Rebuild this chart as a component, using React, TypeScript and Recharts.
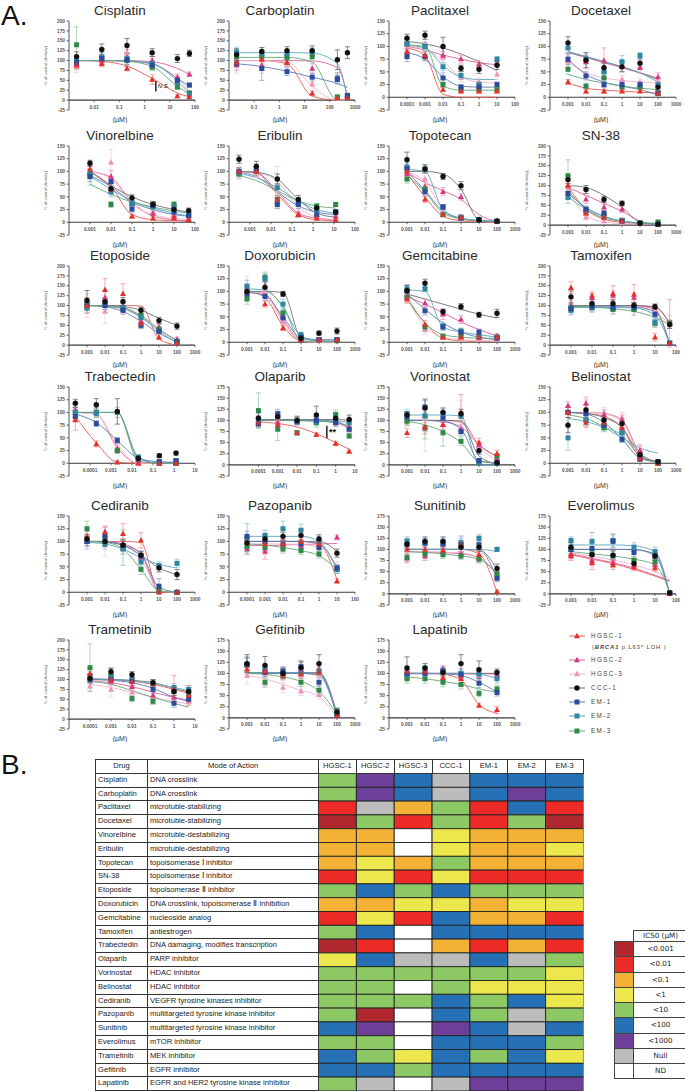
import React from 'react';
import { ComposedChart, Line, Scatter, XAxis, YAxis, ErrorBar, ReferenceLine } from 'recharts';

// ---------------- categories ----------------
const CELL_LINES = ['HGSC-1', 'HGSC-2', 'HGSC-3', 'CCC-1', 'EM-1', 'EM-2', 'EM-3'];

// ---------------- axis ticks / domains ----------------
const Y150 = [-25, 0, 25, 50, 75, 100, 125, 150];
const Y175 = [-25, 0, 25, 50, 75, 100, 125, 150, 175];
const Y200 = [-25, 0, 25, 50, 75, 100, 125, 150, 175, 200];
const XT_CIS = [0.01, 0.1, 1, 10, 100];
const XT_CARBO = [0.1, 1, 10, 100, 1000];
const XT_4_100 = [0.0001, 0.001, 0.01, 0.1, 1, 10, 100];
const XT_3_1000 = [0.001, 0.01, 0.1, 1, 10, 100, 1000];
const XT_3_100 = [0.001, 0.01, 0.1, 1, 10, 100];
const XT_4_10 = [0.0001, 0.001, 0.01, 0.1, 1, 10];
const XD_CIS = [0.001, 100];
const XD_CARBO = [0.01, 1000];
const XD_4_100 = [0.00001, 100];
const XD_3_1000 = [0.0001, 1000];
const XD_3_100 = [0.0001, 100];
const XD_4_10 = [0.00001, 10];
const XD_OLA = [0.000003, 10];

// ---------------- dose-response data (rows: HGSC-1, HGSC-2, HGSC-3, CCC-1, EM-1, EM-2, EM-3) ----------------
const CISPLATIN_CONC = [0.002, 0.02, 0.2, 2, 20, 60];
const CISPLATIN_RESP = [[88, 92, 80, 52, 10, 8], [92, 100, 108, 100, 58, 65], [85, 98, 120, 95, 50, 15], [110, 128, 138, 120, 105, 118], [95, 105, 102, 88, 50, 38], [100, 108, 105, 92, 45, 15], [140, 105, 100, 83, 33, 18]];
const CISPLATIN_FIT = [[100, 98, 86, 55, 18, 8], [100, 100, 100, 97, 80, 65], [100, 100, 99, 90, 55, 22], null, [100, 100, 99, 92, 55, 35], [100, 100, 99, 92, 48, 18], [100, 100, 98, 85, 35, 15]];
const CISPLATIN_SEM = [[10, 8, 6, 12, 4, 3], [12, 10, 20, 10, 8, 6], [15, 12, 35, 10, 10, 5], [12, 14, 18, 10, 10, 8], [8, 10, 12, 6, 8, 5], [10, 12, 15, 8, 8, 5], [45, 15, 15, 8, 6, 5]];

const CARBOPLATIN_CONC = [0.02, 0.2, 2, 20, 200, 500];
const CARBOPLATIN_RESP = [[95, 103, 95, 17, 5, 5], [90, 88, 95, 80, 58, 8], [88, 80, 108, 40, 5, 3], [115, 123, 125, 125, 102, 120], [92, 80, 72, 58, 52, 12], [122, 118, 118, 122, 55, 10], [110, 110, 108, 110, 8, 5]];
const CARBOPLATIN_FIT = [[100, 100, 92, 10, 0, 0], [100, 100, 100, 99, 82, 10], [100, 100, 97, 35, 0, 0], null, [92, 85, 73, 58, 42, 32], [120, 120, 120, 119, 92, 5], [108, 108, 108, 96, 0, 0]];
const CARBOPLATIN_SEM = [[8, 6, 8, 5, 3, 3], [15, 10, 10, 12, 10, 5], [20, 12, 12, 15, 4, 3], [15, 10, 10, 12, 25, 15], [10, 30, 10, 10, 10, 5], [12, 8, 8, 10, 15, 5], [8, 8, 8, 8, 5, 3]];

const PACLITAXEL_CONC = [0.0001, 0.001, 0.01, 0.1, 1, 10];
const PACLITAXEL_RESP = [[90, 82, 15, 12, 12, 12], [88, 82, 82, 75, 65, 68], [98, 105, 80, 40, 30, 45], [116, 122, 100, 57, 55, 63], [80, 80, 38, 20, 20, 25], [105, 100, 60, 43, 25, 75], [105, 100, 25, 15, 15, 15]];
const PACLITAXEL_FIT = [[97, 82, 6, 0, 0, 0], [100, 93, 83, 75, 68, 64], [100, 95, 70, 40, 30, 28], [110, 105, 97, 85, 70, 52], [88, 75, 40, 22, 20, 20], [102, 97, 62, 40, 35, 35], [103, 100, 22, 14, 14, 14]];
const PACLITAXEL_SEM = [[10, 8, 4, 3, 3, 3], [12, 10, 8, 8, 8, 6], [15, 10, 15, 10, 8, 10], [8, 8, 18, 6, 8, 8], [10, 8, 10, 5, 5, 5], [8, 8, 8, 8, 6, 5], [10, 8, 5, 4, 4, 4]];

const DOCETAXEL_CONC = [0.001, 0.01, 0.1, 1, 10, 100];
const DOCETAXEL_RESP = [[30, 12, 12, 12, 12, 8], [73, 70, 72, 60, 58, 40], [72, 45, 40, 35, 30, 30], [107, 73, 58, 60, 67, 20], [75, 42, 25, 25, 25, 8], [97, 75, 50, 70, 82, 25], [55, 22, 38, 20, 20, 8]];
const DOCETAXEL_FIT = [[28, 18, 14, 12, 10, 8], [88, 78, 68, 58, 48, 38], [70, 48, 38, 33, 30, 28], [90, 80, 70, 60, 48, 35], [75, 45, 30, 22, 15, 5], [88, 80, 70, 60, 48, 30], [45, 35, 28, 22, 18, 15]];
const DOCETAXEL_SEM = [[5, 4, 4, 3, 3, 3], [15, 12, 25, 10, 10, 8], [12, 10, 10, 8, 8, 8], [12, 15, 8, 10, 8, 6], [10, 8, 6, 6, 6, 5], [10, 10, 8, 12, 6, 6], [10, 6, 8, 6, 5, 5]];

const VINORELBINE_CONC = [0.001, 0.01, 0.1, 1, 10, 50];
const VINORELBINE_RESP = [[105, 65, 12, 8, 8, 5], [100, 90, 40, 17, 12, 5], [100, 118, 35, 20, 15, 10], [116, 66, 48, 35, 25, 23], [90, 80, 26, 33, 20, 13], [93, 60, 37, 30, 30, 15], [95, 35, 37, 35, 35, 15]];
const VINORELBINE_FIT = [[100, 70, 15, 5, 3, 2], [100, 88, 40, 12, 5, 3], [100, 85, 35, 15, 8, 5], [100, 72, 50, 35, 25, 20], [92, 70, 40, 25, 15, 12], [90, 65, 42, 28, 18, 12], [75, 55, 40, 30, 22, 18]];
const VINORELBINE_SEM = [[10, 8, 4, 3, 3, 3], [10, 12, 8, 5, 5, 3], [10, 25, 10, 8, 6, 5], [6, 10, 6, 6, 6, 5], [10, 8, 6, 6, 5, 5], [20, 10, 6, 6, 6, 5], [10, 6, 6, 6, 6, 5]];

const ERIBULIN_CONC = [0.0003, 0.002, 0.02, 0.2, 1.5, 12];
const ERIBULIN_RESP = [[100, 100, 45, 15, 8, 5], [100, 100, 40, 15, 15, 12], [95, 100, 85, 20, 10, 5], [124, 110, 85, 45, 28, 20], [100, 105, 35, 35, 15, 20], [98, 100, 68, 40, 25, 20], [95, 100, 45, 37, 32, 35]];
const ERIBULIN_FIT = [[100, 97, 55, 15, 5, 3], [100, 98, 60, 18, 8, 5], [100, 99, 80, 30, 10, 5], [100, 98, 85, 45, 18, 10], [98, 90, 60, 32, 20, 15], [95, 88, 68, 42, 25, 18], [92, 82, 62, 42, 32, 28]];
const ERIBULIN_SEM = [[8, 8, 8, 5, 4, 3], [8, 10, 10, 5, 5, 4], [10, 12, 25, 8, 5, 3], [8, 10, 10, 8, 6, 5], [8, 10, 8, 8, 5, 5], [8, 8, 8, 8, 6, 5], [8, 8, 8, 6, 5, 4]];

const TOPOTECAN_CONC = [0.001, 0.01, 0.1, 1, 10, 100];
const TOPOTECAN_RESP = [[100, 45, 15, 10, 5, 2], [95, 70, 60, 50, 5, 2], [100, 85, 20, 10, 5, 2], [123, 105, 90, 72, 5, 2], [105, 60, 30, 8, 5, 2], [108, 105, 30, 10, 5, 2], [85, 65, 15, 10, 5, 2]];
const TOPOTECAN_FIT = [[97, 50, 12, 3, 1, 0], [98, 78, 62, 45, 15, 2], [98, 80, 25, 5, 2, 0], [100, 100, 95, 65, 5, 0], [100, 62, 22, 8, 3, 2], [104, 100, 25, 8, 4, 2], [92, 60, 18, 7, 3, 2]];
const TOPOTECAN_SEM = [[8, 6, 4, 3, 2, 2], [10, 10, 8, 6, 3, 2], [10, 12, 5, 3, 2, 2], [15, 8, 6, 8, 3, 2], [8, 8, 5, 3, 2, 2], [8, 8, 5, 3, 2, 2], [8, 8, 4, 3, 2, 2]];

const SN38_CONC = [0.001, 0.01, 0.1, 1, 10, 100];
const SN38_RESP = [[100, 30, 20, 10, 5, 2], [100, 65, 45, 40, 5, 2], [85, 20, 10, 5, 5, 2], [115, 90, 65, 55, 5, 2], [80, 40, 30, 10, 5, 2], [70, 38, 25, 12, 5, 2], [125, 35, 20, 12, 5, 8]];
const SN38_FIT = [[97, 40, 15, 7, 3, 2], [95, 75, 55, 35, 10, 2], [88, 25, 8, 4, 3, 2], [100, 95, 75, 45, 8, 2], [80, 45, 22, 10, 5, 2], [72, 40, 22, 10, 5, 2], [88, 40, 18, 10, 6, 5]];
const SN38_SEM = [[10, 6, 5, 3, 2, 2], [15, 10, 8, 8, 3, 2], [15, 6, 4, 3, 2, 2], [10, 10, 8, 6, 3, 2], [12, 8, 6, 4, 2, 2], [15, 8, 6, 4, 2, 2], [40, 8, 6, 4, 3, 3]];

const ETOPOSIDE_CONC = [0.001, 0.01, 0.1, 1, 10, 100];
const ETOPOSIDE_RESP = [[100, 140, 130, 55, 20, 5], [105, 120, 100, 60, 45, 15], [100, 85, 95, 70, 45, 10], [113, 110, 110, 88, 62, 48], [100, 100, 88, 50, 35, 8], [95, 100, 95, 70, 35, 5], [105, 105, 95, 75, 40, 10]];
const ETOPOSIDE_FIT = [[100, 100, 100, 99, 15, 0], [100, 100, 95, 72, 40, 12], [100, 98, 92, 70, 40, 10], [100, 100, 97, 88, 68, 50], [100, 97, 85, 60, 30, 8], [100, 98, 92, 70, 35, 5], [100, 99, 94, 75, 40, 10]];
const ETOPOSIDE_SEM = [[20, 28, 25, 10, 6, 3], [15, 20, 15, 10, 8, 5], [30, 30, 15, 10, 8, 4], [25, 10, 10, 8, 8, 8], [10, 10, 10, 8, 6, 4], [12, 10, 10, 8, 6, 3], [12, 10, 10, 8, 6, 4]];

const DOXORUBICIN_CONC = [0.001, 0.01, 0.1, 1, 10, 100];
const DOXORUBICIN_RESP = [[100, 75, 28, 5, 5, 5], [105, 110, 50, 5, 5, 5], [110, 100, 40, 5, 3, 3], [100, 108, 95, 8, 18, 22], [95, 90, 48, 10, 5, 5], [110, 125, 75, 15, 5, 5], [85, 128, 58, 10, 5, 3]];
const DOXORUBICIN_FIT = [[100, 88, 32, 2, 0, 0], [100, 95, 45, 3, 0, 0], [100, 93, 40, 2, 0, 0], [100, 100, 98, 10, 5, 5], [98, 92, 50, 8, 3, 2], [105, 103, 70, 12, 3, 2], [100, 100, 70, 3, 1, 1]];
const DOXORUBICIN_SEM = [[8, 6, 5, 3, 2, 2], [10, 10, 8, 3, 2, 2], [20, 12, 8, 3, 2, 2], [10, 12, 5, 4, 4, 6], [10, 8, 8, 4, 3, 3], [12, 10, 10, 5, 3, 3], [10, 10, 10, 4, 3, 2]];

const GEMCITABINE_CONC = [0.001, 0.01, 0.1, 1, 10, 100];
const GEMCITABINE_RESP = [[85, 35, 10, 10, 10, 10], [92, 77, 55, 45, 15, 12], [90, 25, 10, 10, 5, 5], [102, 116, 60, 70, 54, 57], [100, 62, 30, 20, 20, 8], [105, 105, 32, 22, 10, 10], [88, 30, 12, 12, 10, 10]];
const GEMCITABINE_FIT = [[88, 38, 8, 3, 2, 2], [90, 75, 58, 40, 25, 12], [88, 30, 10, 5, 3, 2], [95, 85, 75, 65, 55, 48], [95, 65, 38, 20, 10, 5], [103, 100, 30, 20, 15, 10], [85, 38, 15, 10, 8, 8]];
const GEMCITABINE_SEM = [[8, 8, 4, 3, 3, 3], [10, 8, 10, 8, 5, 5], [10, 8, 4, 3, 3, 3], [10, 8, 5, 6, 5, 8], [12, 8, 6, 6, 6, 4], [8, 5, 8, 6, 4, 4], [10, 8, 4, 4, 4, 4]];

const TAMOXIFEN_CONC = [0.001, 0.01, 0.1, 1, 10, 50];
const TAMOXIFEN_RESP = [[145, 125, 130, 128, 20, 5], [100, 120, 125, 120, 95, 55], [95, 100, 105, 100, 55, 60], [122, 105, 105, 100, 97, 52], [92, 97, 95, 95, 78, 5], [88, 95, 95, 95, 58, 5], [95, 95, 90, 90, 55, 55]];
const TAMOXIFEN_FIT = [[100, 100, 100, 100, 90, 0], [100, 100, 100, 100, 95, 55], [100, 100, 100, 99, 80, 55], [100, 100, 100, 100, 97, 55], [97, 97, 97, 96, 85, 5], [95, 95, 95, 94, 75, 3], [98, 96, 92, 85, 70, 52]];
const TAMOXIFEN_SEM = [[15, 10, 20, 25, 10, 3], [12, 10, 12, 12, 10, 60], [20, 15, 25, 20, 10, 15], [15, 10, 10, 8, 6, 10], [10, 8, 8, 8, 8, 3], [10, 8, 8, 8, 10, 3], [10, 12, 12, 15, 10, 8]];

const TRABECTEDIN_CONC = [0.00002, 0.0002, 0.002, 0.02, 0.2, 1.25];
const TRABECTEDIN_RESP = [[85, 38, 2, 0, 0, 0], [105, 100, 28, 0, 0, 0], [95, 100, 30, 2, 0, 0], [118, 115, 102, 10, 15, 20], [92, 78, 45, 8, 3, 5], [100, 98, 100, 12, 3, 5], [100, 100, 25, 8, 0, 0]];
const TRABECTEDIN_FIT = [[92, 40, 2, 0, 0, 0], [100, 97, 30, 0, 0, 0], [100, 96, 35, 0, 0, 0], [100, 100, 100, 12, 0, 0], [97, 80, 45, 10, 3, 2], [100, 100, 100, 10, 0, 0], [100, 100, 100, 5, 0, 0]];
const TRABECTEDIN_SEM = [[20, 6, 3, 2, 2, 2], [10, 10, 8, 2, 2, 2], [10, 10, 8, 2, 2, 2], [8, 12, 25, 5, 4, 4], [8, 6, 6, 4, 2, 3], [10, 8, 10, 5, 2, 3], [10, 8, 6, 4, 2, 2]];

const OLAPARIB_CONC = [0.0001, 0.001, 0.01, 0.1, 1, 5];
const OLAPARIB_RESP = [[95, 90, 72, 68, 48, 30], [100, 95, 100, 100, 95, 85], [100, 100, 100, 100, 95, 80], [105, 108, 100, 112, 105, 102], [92, 115, 98, 100, 95, 80], [100, 110, 98, 97, 100, 95], [122, 80, 72, 95, 113, 65]];
const OLAPARIB_FIT = [[97, 93, 85, 70, 50, 35], [100, 100, 100, 99, 95, 85], [100, 100, 100, 99, 94, 82], [102, 102, 102, 102, 102, 100], [100, 100, 100, 100, 97, 85], [100, 100, 100, 100, 99, 95], [100, 100, 99, 98, 95, 82]];
const OLAPARIB_SEM = [[8, 8, 5, 4, 5, 3], [10, 10, 10, 8, 8, 6], [10, 10, 10, 10, 8, 8], [12, 10, 8, 20, 10, 10], [8, 10, 8, 8, 8, 6], [10, 10, 8, 8, 10, 8], [40, 25, 5, 10, 10, 5]];

const VORINOSTAT_CONC = [0.001, 0.01, 0.1, 1, 10, 100];
const VORINOSTAT_RESP = [[72, 85, 90, 118, 50, 25], [100, 110, 90, 80, 45, 15], [100, 80, 90, 115, 40, 10], [112, 128, 118, 115, 32, 5], [108, 130, 105, 75, 10, 5], [115, 110, 115, 110, 5, 3], [98, 83, 72, 53, 5, 20]];
const VORINOSTAT_FIT = [[100, 100, 100, 98, 45, 20], [100, 100, 97, 85, 45, 18], [100, 100, 99, 95, 40, 10], [100, 100, 100, 98, 20, 2], [100, 100, 98, 80, 10, 3], [112, 112, 112, 110, 0, 0], [98, 90, 75, 50, 8, 5]];
const VORINOSTAT_SEM = [[10, 15, 12, 40, 10, 8], [10, 15, 10, 10, 8, 5], [10, 50, 20, 30, 8, 5], [8, 20, 10, 10, 8, 3], [10, 15, 10, 8, 4, 3], [10, 10, 10, 10, 3, 2], [10, 25, 30, 10, 3, 5]];

const BELINOSTAT_CONC = [0.001, 0.01, 0.1, 1, 10, 100];
const BELINOSTAT_RESP = [[100, 80, 80, 70, 10, 0], [113, 118, 95, 85, 25, 0], [100, 110, 100, 90, 25, 0], [75, 105, 85, 78, 17, 3], [100, 97, 75, 47, 8, 3], [50, 85, 75, 60, 12, 3], [100, 85, 70, 60, 15, 0]];
const BELINOSTAT_FIT = [[100, 98, 92, 70, 12, 2], [100, 100, 98, 85, 20, 2], [100, 100, 97, 82, 18, 2], [100, 98, 90, 70, 18, 3], [100, 97, 80, 48, 10, 3], [88, 82, 70, 50, 30, 20], [95, 88, 72, 55, 15, 2]];
const BELINOSTAT_SEM = [[10, 10, 8, 8, 4, 2], [8, 12, 10, 10, 10, 2], [10, 15, 10, 10, 12, 2], [15, 10, 8, 8, 6, 3], [10, 8, 8, 6, 4, 3], [25, 12, 10, 10, 5, 3], [10, 10, 8, 8, 5, 2]];

const CEDIRANIB_CONC = [0.001, 0.01, 0.1, 1, 10, 100];
const CEDIRANIB_RESP = [[110, 118, 115, 102, 0, 0], [100, 118, 95, 70, 5, 0], [100, 100, 90, 65, 5, 0], [105, 100, 93, 73, 48, 35], [100, 110, 92, 72, 12, 0], [100, 95, 85, 60, 52, 57], [125, 100, 88, 45, 5, 0]];
const CEDIRANIB_FIT = [[100, 100, 100, 98, 0, 0], [100, 100, 95, 75, 3, 0], [100, 99, 92, 68, 3, 0], [100, 99, 92, 73, 48, 35], [100, 100, 93, 75, 10, 0], [98, 95, 85, 68, 55, 48], [100, 98, 85, 45, 3, 0]];
const CEDIRANIB_SEM = [[10, 10, 20, 15, 2, 2], [10, 12, 10, 8, 3, 2], [10, 30, 15, 10, 3, 2], [8, 10, 10, 8, 8, 10], [8, 10, 10, 8, 15, 2], [15, 10, 10, 8, 8, 8], [15, 10, 35, 10, 3, 2]];

const PAZOPANIB_CONC = [0.0001, 0.001, 0.01, 0.1, 1, 10];
const PAZOPANIB_RESP = [[100, 95, 95, 100, 95, 22], [85, 80, 95, 90, 95, 108], [90, 85, 90, 95, 90, 50], [97, 105, 110, 112, 105, 77], [110, 100, 95, 95, 88, 48], [105, 112, 125, 122, 100, 45], [90, 88, 85, 82, 75, 45]];
const PAZOPANIB_FIT = [[100, 100, 100, 100, 95, 25], [92, 92, 93, 94, 95, 96], [95, 95, 95, 94, 88, 52], [100, 100, 100, 100, 100, 80], [100, 100, 100, 100, 95, 48], [110, 110, 110, 110, 100, 45], [95, 93, 88, 82, 72, 45]];
const PAZOPANIB_SEM = [[10, 8, 8, 8, 8, 5], [10, 15, 10, 10, 10, 5], [12, 10, 10, 10, 10, 10], [10, 8, 8, 10, 8, 8], [10, 8, 8, 8, 8, 6], [30, 10, 15, 12, 10, 8], [10, 8, 8, 8, 8, 8]];

const SUNITINIB_CONC = [0.001, 0.01, 0.1, 1, 10, 100];
const SUNITINIB_RESP = [[100, 100, 98, 110, 88, 5], [80, 85, 95, 90, 80, 40], [85, 90, 95, 95, 80, 45], [112, 118, 118, 105, 105, 57], [110, 115, 112, 110, 110, 35], [118, 115, 115, 115, 125, 100], [82, 90, 88, 85, 78, 45]];
const SUNITINIB_FIT = [[100, 100, 100, 100, 90, 3], [95, 94, 93, 90, 82, 42], [96, 95, 94, 92, 82, 45], [100, 100, 100, 100, 99, 55], [100, 100, 100, 100, 98, 35], [100, 100, 100, 100, 100, 95], [95, 93, 90, 85, 78, 45]];
const SUNITINIB_SEM = [[10, 10, 10, 10, 10, 3], [10, 10, 10, 10, 10, 8], [10, 12, 10, 10, 10, 8], [10, 10, 10, 10, 10, 10], [15, 10, 10, 20, 10, 8], [10, 10, 10, 10, 8, 5], [10, 10, 8, 8, 8, 8]];

const EVEROLIMUS_CONC = [0.001, 0.01, 0.1, 1, 10, 50];
const EVEROLIMUS_RESP = [[85, 70, 65, 60, 58, 0], [90, 75, 70, 65, 65, 2], [88, 80, 75, 70, 72, 2], [105, 88, 87, 68, 85, 2], [100, 102, 118, 93, 85, 2], [120, 118, 120, 105, 95, 3], [100, 90, 85, 75, 72, 2]];
const EVEROLIMUS_FIT = [[88, 78, 68, 55, 40, 28], [90, 80, 70, 58, 42, 30], [92, 85, 76, 65, 50, 35], [100, 100, 100, 99, 90, 0], [100, 100, 100, 100, 85, 0], [110, 110, 110, 108, 95, 0], [95, 90, 85, 78, 65, 5]];
const EVEROLIMUS_SEM = [[10, 15, 10, 8, 8, 2], [10, 12, 10, 8, 8, 2], [10, 12, 12, 10, 10, 2], [10, 10, 10, 8, 8, 3], [10, 10, 15, 10, 10, 3], [8, 20, 15, 10, 10, 3], [10, 10, 10, 8, 8, 2]];

const TRAMETINIB_CONC = [0.0001, 0.001, 0.01, 0.1, 1, 5];
const TRAMETINIB_RESP = [[115, 100, 95, 88, 75, 60], [100, 95, 82, 60, 55, 50], [83, 75, 68, 55, 55, 45], [103, 120, 112, 92, 70, 70], [100, 100, 95, 75, 40, 50], [110, 105, 100, 90, 80, 75], [130, 110, 52, 45, 70, 65]];
const TRAMETINIB_FIT = [[102, 100, 96, 88, 75, 65], [97, 92, 82, 68, 55, 48], [88, 80, 68, 55, 45, 38], [100, 100, 98, 92, 78, 68], [100, 98, 92, 78, 55, 45], [102, 100, 97, 90, 80, 72], [95, 88, 72, 55, 40, 30]];
const TRAMETINIB_SEM = [[10, 10, 10, 10, 35, 25], [10, 10, 10, 10, 10, 10], [12, 20, 15, 15, 15, 10], [10, 8, 8, 8, 10, 10], [10, 10, 10, 10, 10, 10], [10, 10, 10, 10, 10, 10], [60, 20, 8, 8, 10, 10]];

const GEFITINIB_CONC = [0.001, 0.01, 0.1, 1, 10, 100];
const GEFITINIB_RESP = [[110, 105, 95, 98, 102, 5], [120, 102, 100, 110, 110, 8], [95, 78, 68, 60, 52, 5], [122, 118, 100, 113, 122, 13], [120, 103, 105, 115, 80, 5], [120, 108, 102, 100, 105, 10], [118, 80, 98, 80, 62, 15]];
const GEFITINIB_FIT = [[100, 100, 100, 100, 98, 5], [102, 102, 102, 102, 100, 5], [95, 88, 75, 62, 48, 0], [102, 102, 102, 102, 102, 10], [100, 100, 100, 100, 95, 5], [102, 102, 102, 102, 100, 8], [100, 98, 92, 82, 60, 8]];
const GEFITINIB_SEM = [[10, 10, 10, 10, 10, 5], [15, 10, 10, 15, 10, 5], [20, 10, 12, 10, 10, 5], [20, 20, 12, 15, 20, 8], [15, 10, 10, 10, 10, 5], [15, 10, 10, 10, 10, 5], [20, 10, 10, 10, 10, 8]];

const LAPATINIB_CONC = [0.001, 0.01, 0.1, 1, 10, 100];
const LAPATINIB_RESP = [[105, 105, 90, 88, 28, 18], [100, 105, 110, 95, 100, 98], [95, 100, 100, 100, 95, 95], [112, 112, 102, 122, 108, 102], [100, 100, 105, 97, 78, 57], [97, 108, 105, 100, 98, 88], [88, 88, 80, 75, 55, 65]];
const LAPATINIB_FIT = [[100, 100, 98, 85, 30, 10], [100, 100, 100, 100, 100, 100], [98, 98, 98, 98, 98, 97], [100, 100, 100, 100, 100, 100], [100, 100, 99, 95, 80, 58], [100, 100, 100, 100, 98, 88], [92, 88, 82, 75, 65, 58]];
const LAPATINIB_SEM = [[10, 8, 8, 8, 5, 8], [10, 10, 8, 8, 10, 8], [12, 10, 10, 10, 10, 10], [25, 10, 8, 20, 20, 8], [8, 15, 8, 8, 10, 8], [10, 10, 10, 10, 10, 10], [10, 10, 10, 10, 8, 8]];

// ---------------- table data ----------------
const DRUGS = ['Cisplatin', 'Carboplatin', 'Paclitaxel', 'Docetaxel', 'Vinorelbine', 'Eribulin', 'Topotecan', 'SN-38', 'Etoposide', 'Doxorubicin', 'Gemcitabine', 'Tamoxifen', 'Trabectedin', 'Olaparib', 'Vorinostat', 'Belinostat', 'Cediranib', 'Pazopanib', 'Sunitinib', 'Everolimus', 'Trametinib', 'Gefitinib', 'Lapatinib'];
const MODES = ['DNA crosslink', 'DNA crosslink', 'microtuble-stabilizing', 'microtuble-stabilizing', 'microtuble-destabilizing', 'microtuble-destabilizing', 'topoisomerase Ⅰ  inhibitor', 'topoisomerase Ⅰ  inhibitor', 'topoisomerase Ⅱ  inhibitor', 'DNA crosslink, topoisomerase Ⅱ  inhibition', 'nucleoside analog', 'antiestrogen', 'DNA damaging, modifies transcription', 'PARP inhibitor', 'HDAC inhibitor', 'HDAC inhibitor', 'VEGFR tyrosine kinases inhibitor', 'multitargeted tyrosine kinase inhibitor', 'multitargeted tyrosine kinase inhibitor', 'mTOR inhibitor', 'MEK inhibitor', 'EGFR inhibitor', 'EGFR and HER2 tyrosine kinase inhibitor'];
const IC50_CLASSES = ['<0.001', '<0.01', '<0.1', '<1', '<10', '<100', '<1000', 'Null', 'ND'];
const IC50_GRID = [
  ['<10', '<1000', '<100', 'Null', '<100', '<100', '<100'],
  ['<10', '<1000', '<100', 'Null', '<100', '<1000', '<100'],
  ['<0.01', 'Null', '<0.1', '<10', '<0.01', '<100', '<0.01'],
  ['<0.001', '<10', '<0.01', '<10', '<0.01', '<10', '<0.001'],
  ['<0.1', '<0.1', 'ND', '<1', '<0.1', '<0.1', '<0.1'],
  ['<0.1', '<0.1', 'ND', '<1', '<0.1', '<0.1', '<1'],
  ['<0.1', '<1', '<0.1', '<10', '<0.1', '<0.1', '<0.1'],
  ['<0.01', '<1', '<0.01', '<1', '<0.01', '<0.01', '<0.01'],
  ['<10', '<100', '<10', '<100', '<10', '<10', '<10'],
  ['<0.1', '<0.1', '<1', '<1', '<0.1', '<1', '<1'],
  ['<0.01', '<1', '<0.01', '<100', '<0.1', '<0.1', '<0.01'],
  ['<10', '<100', 'ND', '<100', '<100', '<100', '<100'],
  ['<0.001', '<0.01', 'ND', '<0.1', '<0.01', '<0.1', '<0.01'],
  ['<1', '<100', 'Null', 'Null', '<100', 'Null', '<10'],
  ['<10', '<10', '<10', '<10', '<10', '<10', '<1'],
  ['<10', '<10', 'ND', '<10', '<1', '<1', '<1'],
  ['<10', '<10', '<10', '<100', '<10', '<100', '<1'],
  ['<10', '<0.001', 'ND', '<100', '<10', 'Null', '<10'],
  ['<100', '<1000', 'ND', '<1000', '<100', 'Null', '<100'],
  ['<10', '<10', 'ND', '<100', '<100', '<100', '<10'],
  ['<100', '<10', '<1', '<100', '<10', '<100', '<1'],
  ['<100', '<100', '<10', '<100', '<100', '<100', '<100'],
  ['<10', 'Null', 'ND', 'Null', '<1000', '<1000', '<1000'],
];

// ---------------- styles ----------------
const CLASS_COLORS = ['#b0282e', '#ec2b27', '#f3b136', '#ebe74c', '#8cc863', '#2671b5', '#6e3f98', '#bcbcbc', '#ffffff'];
const MARKER_KIND = ['tri', 'tri', 'tri', 'circle', 'square', 'square', 'square'];
const MARKER_COLOR = ['#e4302b', '#d6387f', '#ef92b8', '#111111', '#2b4b9c', '#2d87a3', '#2f8a47'];
const CURVE_COLOR = ['#ea5a52', '#e0609a', '#f4b3cb', '#707070', '#5d78b8', '#5aa6be', '#62a876'];
const ERR_COLOR = ['#f08a85', '#e98fb8', '#f6c5d8', '#555555', '#8497c8', '#86bccd', '#8cc39a'];
const DRAW_ORDER = [2, 1, 6, 5, 4, 0, 3];
const FONT = 'Arial, "Liberation Sans", Helvetica, sans-serif';
const TEXT_DARK = '#1a1a1a';

const PANELS: any[] = [
  { name: 'Cisplatin', conc: CISPLATIN_CONC, resp: CISPLATIN_RESP, fit: CISPLATIN_FIT, sem: CISPLATIN_SEM, dom: XD_CIS, ticks: XT_CIS, y: Y200, note: { x: 2.8, y1: 22, y2: 48, text: 'N.S.', italic: true } },
  { name: 'Carboplatin', conc: CARBOPLATIN_CONC, resp: CARBOPLATIN_RESP, fit: CARBOPLATIN_FIT, sem: CARBOPLATIN_SEM, dom: XD_CARBO, ticks: XT_CARBO, y: Y200 },
  { name: 'Paclitaxel', conc: PACLITAXEL_CONC, resp: PACLITAXEL_RESP, fit: PACLITAXEL_FIT, sem: PACLITAXEL_SEM, dom: XD_4_100, ticks: XT_4_100, y: Y150 },
  { name: 'Docetaxel', conc: DOCETAXEL_CONC, resp: DOCETAXEL_RESP, fit: DOCETAXEL_FIT, sem: DOCETAXEL_SEM, dom: XD_3_1000, ticks: XT_3_1000, y: Y150 },
  { name: 'Vinorelbine', conc: VINORELBINE_CONC, resp: VINORELBINE_RESP, fit: VINORELBINE_FIT, sem: VINORELBINE_SEM, dom: XD_3_100, ticks: XT_3_100, y: Y150 },
  { name: 'Eribulin', conc: ERIBULIN_CONC, resp: ERIBULIN_RESP, fit: ERIBULIN_FIT, sem: ERIBULIN_SEM, dom: XD_3_100, ticks: XT_3_100, y: Y150 },
  { name: 'Topotecan', conc: TOPOTECAN_CONC, resp: TOPOTECAN_RESP, fit: TOPOTECAN_FIT, sem: TOPOTECAN_SEM, dom: XD_3_1000, ticks: XT_3_1000, y: Y150 },
  { name: 'SN-38', conc: SN38_CONC, resp: SN38_RESP, fit: SN38_FIT, sem: SN38_SEM, dom: XD_3_1000, ticks: XT_3_1000, y: Y200 },
  { name: 'Etoposide', conc: ETOPOSIDE_CONC, resp: ETOPOSIDE_RESP, fit: ETOPOSIDE_FIT, sem: ETOPOSIDE_SEM, dom: XD_3_1000, ticks: XT_3_1000, y: Y200 },
  { name: 'Doxorubicin', conc: DOXORUBICIN_CONC, resp: DOXORUBICIN_RESP, fit: DOXORUBICIN_FIT, sem: DOXORUBICIN_SEM, dom: XD_3_1000, ticks: XT_3_1000, y: Y150 },
  { name: 'Gemcitabine', conc: GEMCITABINE_CONC, resp: GEMCITABINE_RESP, fit: GEMCITABINE_FIT, sem: GEMCITABINE_SEM, dom: XD_3_1000, ticks: XT_3_1000, y: Y150 },
  { name: 'Tamoxifen', conc: TAMOXIFEN_CONC, resp: TAMOXIFEN_RESP, fit: TAMOXIFEN_FIT, sem: TAMOXIFEN_SEM, dom: XD_3_100, ticks: XT_3_100, y: Y200 },
  { name: 'Trabectedin', conc: TRABECTEDIN_CONC, resp: TRABECTEDIN_RESP, fit: TRABECTEDIN_FIT, sem: TRABECTEDIN_SEM, dom: XD_4_10, ticks: XT_4_10, y: Y150 },
  { name: 'Olaparib', conc: OLAPARIB_CONC, resp: OLAPARIB_RESP, fit: OLAPARIB_FIT, sem: OLAPARIB_SEM, dom: XD_OLA, ticks: XT_4_10, y: Y175, note: { x: 0.35, y1: 60, y2: 88, text: '**', italic: false } },
  { name: 'Vorinostat', conc: VORINOSTAT_CONC, resp: VORINOSTAT_RESP, fit: VORINOSTAT_FIT, sem: VORINOSTAT_SEM, dom: XD_3_1000, ticks: XT_3_1000, y: Y175 },
  { name: 'Belinostat', conc: BELINOSTAT_CONC, resp: BELINOSTAT_RESP, fit: BELINOSTAT_FIT, sem: BELINOSTAT_SEM, dom: XD_3_1000, ticks: XT_3_1000, y: Y150 },
  { name: 'Cediranib', conc: CEDIRANIB_CONC, resp: CEDIRANIB_RESP, fit: CEDIRANIB_FIT, sem: CEDIRANIB_SEM, dom: XD_3_1000, ticks: XT_3_1000, y: Y150 },
  { name: 'Pazopanib', conc: PAZOPANIB_CONC, resp: PAZOPANIB_RESP, fit: PAZOPANIB_FIT, sem: PAZOPANIB_SEM, dom: XD_4_100, ticks: XT_4_100, y: Y150 },
  { name: 'Sunitinib', conc: SUNITINIB_CONC, resp: SUNITINIB_RESP, fit: SUNITINIB_FIT, sem: SUNITINIB_SEM, dom: XD_3_1000, ticks: XT_3_1000, y: Y175 },
  { name: 'Everolimus', conc: EVEROLIMUS_CONC, resp: EVEROLIMUS_RESP, fit: EVEROLIMUS_FIT, sem: EVEROLIMUS_SEM, dom: XD_3_100, ticks: XT_3_100, y: Y175 },
  { name: 'Trametinib', conc: TRAMETINIB_CONC, resp: TRAMETINIB_RESP, fit: TRAMETINIB_FIT, sem: TRAMETINIB_SEM, dom: XD_4_10, ticks: XT_4_10, y: Y200 },
  { name: 'Gefitinib', conc: GEFITINIB_CONC, resp: GEFITINIB_RESP, fit: GEFITINIB_FIT, sem: GEFITINIB_SEM, dom: XD_3_1000, ticks: XT_3_1000, y: Y175 },
  { name: 'Lapatinib', conc: LAPATINIB_CONC, resp: LAPATINIB_RESP, fit: LAPATINIB_FIT, sem: LAPATINIB_SEM, dom: XD_3_1000, ticks: XT_3_1000, y: Y175 },
];

// ---------------- layout ----------------
const AXIS_X = [69, 229, 389, 550];
const TITLE_Y = [11, 136, 256, 377, 506, 630];
const AXIS_W = 30;
const PLOT_W = 126;
const PLOT_H = 89;
const M_TOP = 19;
const M_RIGHT = 10;
const X_H = 13;
const CH_W = AXIS_W + PLOT_W + M_RIGHT;
const CH_H = M_TOP + PLOT_H + X_H;
const CAPTION_SHIFT = 12;

const fmt = (v: number) => String(v);

function Marker({ kind, color, cx, cy }: any) {
  if (cx == null || cy == null || isNaN(cx) || isNaN(cy)) return null;
  if (kind === 'tri') return <polygon points={`${cx},${cy - 3.2} ${cx + 3},${cy + 2.2} ${cx - 3},${cy + 2.2}`} fill={color} />;
  if (kind === 'circle') return <circle cx={cx} cy={cy} r={2.7} fill={color} />;
  return <rect x={cx - 2.5} y={cy - 2.5} width={5} height={5} fill={color} />;
}

function XTick(props: any) {
  const { x, y, payload, off } = props;
  return (
    <g>
      <line x1={x} x2={x} y1={y - off} y2={y - off + 2} stroke="#444" strokeWidth={0.8} />
      <text x={x} y={y - off + 8.5} textAnchor="middle" fontSize={4.8} fontWeight={700} fill="#555" fontFamily={FONT}>{fmt(payload.value)}</text>
    </g>
  );
}

function DosePanel({ p, left, top }: any) {
  const yMax = p.y[p.y.length - 1];
  const off = (PLOT_H * 25) / (yMax + 25);
  const series = CELL_LINES.map((name, s) => ({
    name,
    s,
    pts: p.resp[s].map((v: number, i: number) => ({ x: p.conc[i], y: v, e: p.sem[s][i] })),
    fit: p.fit[s] ? p.fit[s].map((v: number, i: number) => ({ x: p.conc[i], y: v })) : null,
  }));
  return (
    <div style={{ position: 'absolute', left, top, width: CH_W, height: CH_H }}>
      <div style={{ position: 'absolute', left: AXIS_W - CAPTION_SHIFT - 10, width: PLOT_W + 20, top: 0, height: 18, lineHeight: '18px', textAlign: 'center', fontSize: 13.5, fontFamily: FONT, color: '#2a2a2a', whiteSpace: 'nowrap' }}>{p.name}</div>
      <ComposedChart width={CH_W} height={CH_H} margin={{ top: M_TOP, right: M_RIGHT, bottom: 0, left: 0 }}>
        <XAxis
          type="number"
          dataKey="x"
          scale="log"
          domain={p.dom}
          ticks={p.ticks}
          allowDataOverflow
          interval={0}
          height={X_H}
          axisLine={false}
          tickLine={false}
          tickSize={0}
          tickMargin={0}
          tick={(tp: any) => <XTick {...tp} off={off} />}
          label={{ value: '(µM)', position: 'insideBottom', offset: 1, dx: -CAPTION_SHIFT, fontSize: 7, fill: '#333', fontFamily: FONT }}
        />
        <YAxis
          type="number"
          domain={[-25, yMax]}
          ticks={p.y}
          interval={0}
          width={AXIS_W}
          allowDataOverflow
          tickSize={2.5}
          tickMargin={1.5}
          tick={{ fontSize: 4.8, fill: '#555', fontWeight: 700, fontFamily: FONT }}
          axisLine={{ stroke: '#444', strokeWidth: 0.9 }}
          tickLine={{ stroke: '#444', strokeWidth: 0.8 }}
        />
        <ReferenceLine y={0} stroke="#3a3a3a" strokeWidth={1.1} />
        {series.map((sr) =>
          sr.fit ? (
            <Line
              key={'l' + sr.s}
              data={sr.fit}
              dataKey="y"
              type="monotone"
              stroke={CURVE_COLOR[sr.s]}
              strokeWidth={0.9}
              dot={false}
              activeDot={false}
              isAnimationActive={false}
            />
          ) : null
        )}
        {DRAW_ORDER.map((s) => (
          <Scatter
            key={'s' + s}
            data={series[s].pts}
            dataKey="y"
            isAnimationActive={false}
            shape={(sp: any) => <Marker kind={MARKER_KIND[s]} color={MARKER_COLOR[s]} cx={sp.cx} cy={sp.cy} />}
          >
            <ErrorBar dataKey="e" direction="y" width={2.6} stroke={ERR_COLOR[s]} strokeWidth={0.7} isAnimationActive={false} />
          </Scatter>
        ))}
        {p.note ? (
          <ReferenceLine
            segment={[{ x: p.note.x, y: p.note.y1 }, { x: p.note.x, y: p.note.y2 }]}
            stroke="#111"
            strokeWidth={1.4}
            label={{ value: p.note.text, position: 'right', offset: 2, fontSize: p.note.italic ? 6 : 9, fontStyle: p.note.italic ? 'italic' : 'normal', fontWeight: p.note.italic ? 400 : 700, fill: '#111', fontFamily: FONT }}
          />
        ) : null}
      </ComposedChart>
      <svg style={{ position: 'absolute', left: 0, top: M_TOP, pointerEvents: 'none' }} width={14} height={PLOT_H}>
        <text x={7} y={PLOT_H / 2} transform={`rotate(-90 7 ${PLOT_H / 2})`} textAnchor="middle" dominantBaseline="middle" fontSize={4.2} fill="#666" fontFamily={FONT}>
          % of control (Activity)
        </text>
      </svg>
    </div>
  );
}

function CellLegend() {
  const rows = [
    { s: 0, y: 9 },
    { s: 1, y: 33 },
    { s: 2, y: 47 },
    { s: 3, y: 61 },
    { s: 4, y: 75 },
    { s: 5, y: 89 },
    { s: 6, y: 104 },
  ];
  return (
    <svg style={{ position: 'absolute', left: 560, top: 627 }} width={125} height={115}>
      {rows.map((r) => (
        <g key={r.s}>
          <line x1={9} x2={25} y1={r.y} y2={r.y} stroke={CURVE_COLOR[r.s]} strokeWidth={1} />
          <Marker kind={MARKER_KIND[r.s]} color={MARKER_COLOR[r.s]} cx={17} cy={r.y} />
          <text x={31} y={r.y + 2.3} fontSize={6.3} letterSpacing={1.4} fill="#444" fontFamily={FONT}>{CELL_LINES[r.s]}</text>
        </g>
      ))}
      <text x={32} y={22} fontSize={5.8} letterSpacing={0.9} fill="#444" fontFamily={FONT}>
        (<tspan fontStyle="italic" fontWeight={700}>BRCA1</tspan> p.L63* LOH )
      </text>
    </svg>
  );
}

const TABLE_TOP = 759;
const ROW_H = 13.8;
const DRUG_L = 95;
const MODE_L = 147;
const GRID_L = 318;
const GRID_R = 583;
const CELL_W = (GRID_R - GRID_L) / 7;

function TableText() {
  const cell = (key: string, left: number, top: number, w: number, h: number, text: string, align: any) => (
    <div
      key={key}
      style={{
        position: 'absolute',
        left,
        top,
        width: w + 1,
        height: h + 1,
        boxSizing: 'border-box',
        border: '1px solid #333',
        fontSize: 7.6,
        fontFamily: FONT,
        color: TEXT_DARK,
        lineHeight: `${h - 1}px`,
        textAlign: align,
        paddingLeft: align === 'left' ? 2 : 0,
        whiteSpace: 'nowrap',
        overflow: 'hidden',
        background: '#fff',
      }}
    >
      {text}
    </div>
  );
  const out: any[] = [];
  out.push(cell('hd', DRUG_L, TABLE_TOP, MODE_L - DRUG_L, ROW_H, 'Drug', 'center'));
  out.push(cell('hm', MODE_L, TABLE_TOP, GRID_L - MODE_L, ROW_H, 'Mode of Action', 'center'));
  CELL_LINES.forEach((c, i) => out.push(cell('hc' + i, GRID_L + i * CELL_W, TABLE_TOP, CELL_W, ROW_H, c, 'center')));
  DRUGS.forEach((d, r) => {
    const top = TABLE_TOP + (r + 1) * ROW_H;
    out.push(cell('d' + r, DRUG_L, top, MODE_L - DRUG_L, ROW_H, d, 'left'));
    out.push(cell('m' + r, MODE_L, top, GRID_L - MODE_L, ROW_H, MODES[r], 'left'));
  });
  return <>{out}</>;
}

function HeatGrid() {
  const data: any[] = [];
  IC50_GRID.forEach((row, r) =>
    row.forEach((cls, c) => data.push({ c, r, fill: CLASS_COLORS[IC50_CLASSES.indexOf(cls)] }))
  );
  const H = DRUGS.length * ROW_H;
  const W = GRID_R - GRID_L;
  return (
    <div style={{ position: 'absolute', left: GRID_L, top: TABLE_TOP + ROW_H }}>
      <ComposedChart width={W + 1} height={H + 1} margin={{ top: 0.5, right: 0.5, bottom: 0.5, left: 0.5 }}>
        <XAxis type="number" dataKey="c" domain={[-0.5, 6.5]} hide allowDataOverflow />
        <YAxis type="number" dataKey="r" domain={[-0.5, DRUGS.length - 0.5]} reversed hide allowDataOverflow />
        <Scatter
          data={data}
          dataKey="r"
          isAnimationActive={false}
          shape={(sp: any) => (
            <rect x={sp.cx - W / 14} y={sp.cy - ROW_H / 2} width={W / 7} height={ROW_H} fill={sp.payload.fill} stroke="#222" strokeWidth={0.9} />
          )}
        />
      </ComposedChart>
    </div>
  );
}

function IC50Legend() {
  const top0 = 941;
  const rh = 15.25;
  return (
    <>
      <div style={{ position: 'absolute', left: 633, top: 929.5, width: 55, height: 12.5, boxSizing: 'border-box', border: '1px solid #444', fontSize: 7.2, fontFamily: '"DejaVu Sans", Verdana, sans-serif', color: '#222', textAlign: 'center', lineHeight: '10.5px', background: '#fff' }}>IC50 (μM)</div>
      {IC50_CLASSES.map((cls, i) => (
        <React.Fragment key={cls}>
          <div style={{ position: 'absolute', left: 614, top: top0 + i * rh, width: 20, height: rh + 1, boxSizing: 'border-box', border: '1px solid #444', background: CLASS_COLORS[i] }} />
          <div style={{ position: 'absolute', left: 633, top: top0 + i * rh, width: 55, height: rh + 1, boxSizing: 'border-box', border: '1px solid #444', fontSize: 7.2, fontFamily: '"DejaVu Sans", Verdana, sans-serif', color: '#222', textAlign: 'center', lineHeight: `${rh - 1}px`, background: '#fff' }}>{cls}</div>
        </React.Fragment>
      ))}
    </>
  );
}

export default function App() {
  return (
    <div style={{ position: 'absolute', left: 0, top: 0, width: 685, height: 1091, background: '#fff', overflow: 'hidden', fontFamily: FONT }}>
      <div style={{ position: 'absolute', left: 1, top: 0, fontSize: 28, lineHeight: '32px', fontFamily: FONT, color: '#111' }}>A.</div>
      <div style={{ position: 'absolute', left: 1, top: 749, fontSize: 28, lineHeight: '32px', fontFamily: FONT, color: '#111' }}>B.</div>
      {PANELS.map((p, i) => {
        const r = Math.floor(i / 4);
        const c = i % 4;
        return <DosePanel key={p.name} p={p} left={AXIS_X[c] - AXIS_W} top={TITLE_Y[r] - 9} />;
      })}
      <CellLegend />
      <TableText />
      <HeatGrid />
      <IC50Legend />
    </div>
  );
}
